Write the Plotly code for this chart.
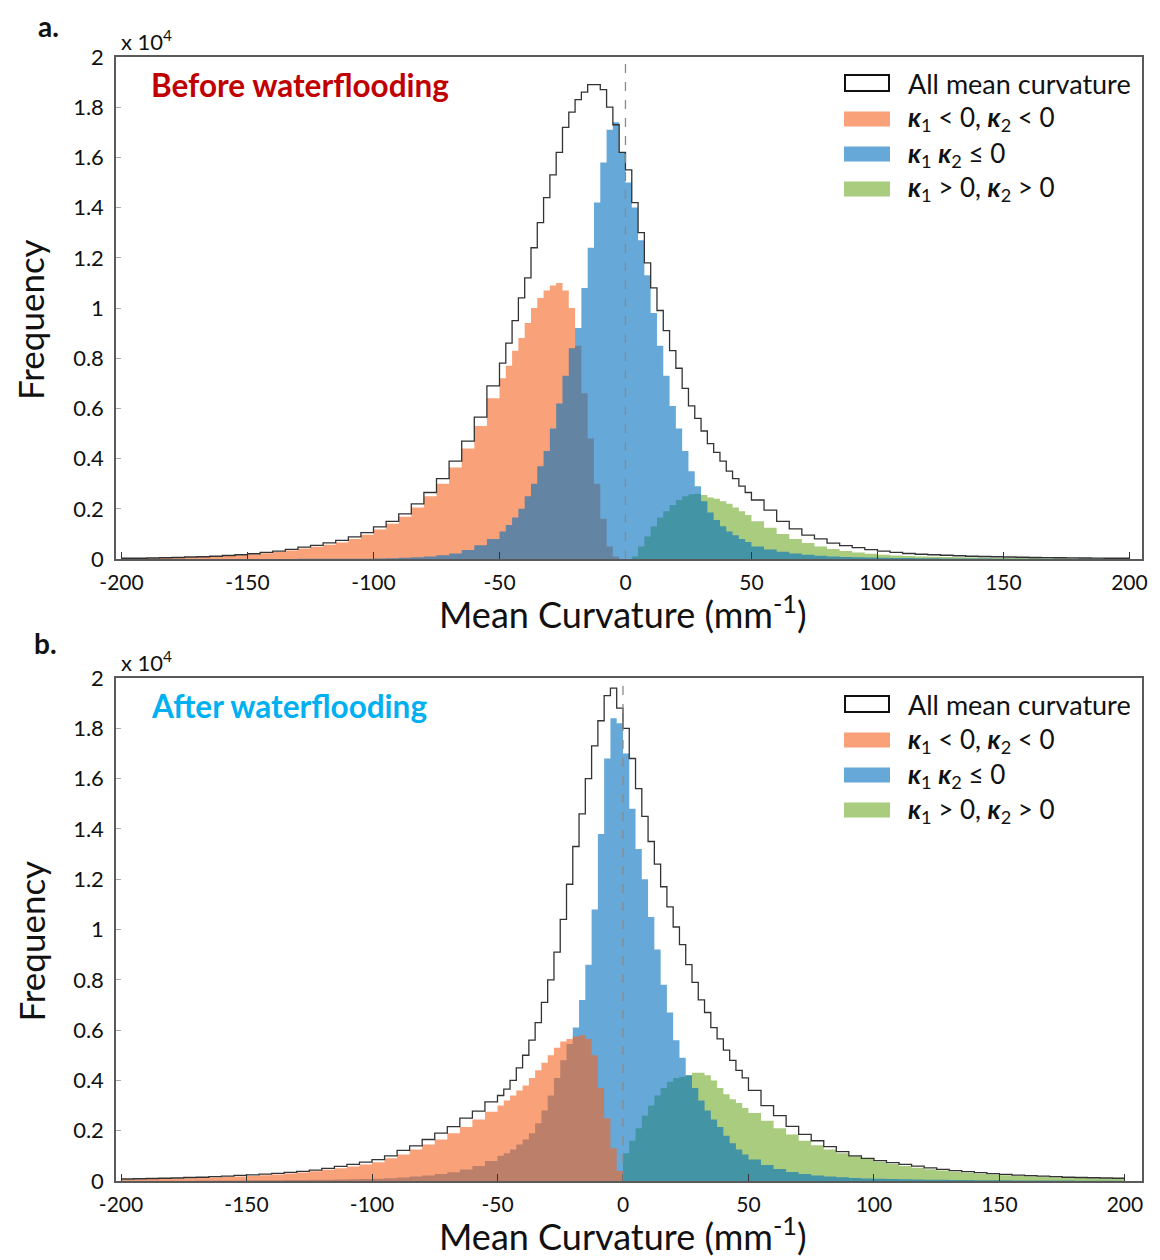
import numpy as np
import plotly.graph_objects as go

# ---------------- data (frequency in units of 10^4) ----------------
# bins: 5 mm^-1 wide in the tails (-200..-50 and 50..200), 2.5 mm^-1 wide in the core (-50..50)
EDGE_LEFT, CORE_LO, CORE_HI, EDGE_RIGHT = -200, -50, 50, 200
TAIL_W, CORE_W = 5, 2.5
X_TICKS = [-200, -150, -100, -50, 0, 50, 100, 150, 200]
Y_TICKS = [0, 0.2, 0.4, 0.6, 0.8, 1.0, 1.2, 1.4, 1.6, 1.8, 2.0]
Y_TICKTEXT = ["0", "0.2", "0.4", "0.6", "0.8", "1", "1.2", "1.4", "1.6", "1.8", "2"]

# panel a: before waterflooding
a_all = [
    0.003, 0.003, 0.004, 0.005, 0.006, 0.008, 0.009, 0.011, 0.014, 0.017,
    0.021, 0.026, 0.031, 0.038, 0.047, 0.054, 0.064, 0.074, 0.088, 0.105,
    0.128, 0.15, 0.18, 0.22, 0.265, 0.32, 0.39, 0.47, 0.565, 0.69,
    0.78, 0.86, 0.95, 1.04, 1.12, 1.24, 1.34, 1.44, 1.53, 1.62,
    1.72, 1.78, 1.83, 1.86, 1.89, 1.89, 1.87, 1.80, 1.73, 1.62,
    1.55, 1.42, 1.30, 1.18, 1.08, 0.99, 0.91, 0.83, 0.76, 0.68,
    0.61, 0.56, 0.51, 0.46, 0.425, 0.39, 0.35, 0.32, 0.29, 0.265,
    0.235, 0.195, 0.15, 0.12, 0.095, 0.08, 0.063, 0.053, 0.045, 0.037,
    0.031, 0.026, 0.022, 0.019, 0.017, 0.015, 0.013, 0.011, 0.010, 0.009,
    0.008, 0.007, 0.006, 0.0055, 0.005, 0.0045, 0.004, 0.0035, 0.003, 0.003]
a_neg = [
    0.002, 0.003, 0.003, 0.004, 0.005, 0.007, 0.008, 0.010, 0.012, 0.015,
    0.019, 0.023, 0.028, 0.034, 0.042, 0.049, 0.057, 0.066, 0.08, 0.097,
    0.118, 0.14, 0.168, 0.205, 0.25, 0.30, 0.365, 0.44, 0.53, 0.64,
    0.72, 0.77, 0.83, 0.88, 0.94, 1.00, 1.04, 1.07, 1.09, 1.10,
    1.07, 1.00, 0.85, 0.66, 0.48, 0.30, 0.16, 0.05, 0.01, 0,
    0, 0, 0, 0, 0, 0, 0, 0, 0, 0,
    0, 0, 0, 0, 0, 0, 0, 0, 0, 0,
    0, 0, 0, 0, 0, 0, 0, 0, 0, 0,
    0, 0, 0, 0, 0, 0, 0, 0, 0, 0,
    0, 0, 0, 0, 0, 0, 0, 0, 0, 0]
a_sad = [
    0, 0, 0, 0, 0, 0, 0, 0, 0, 0,
    0, 0, 0, 0, 0.001, 0.001, 0.001, 0.001, 0.001, 0.001,
    0.002, 0.003, 0.005, 0.007, 0.01, 0.015, 0.022, 0.036, 0.055, 0.08,
    0.11, 0.135, 0.165, 0.20, 0.25, 0.30, 0.37, 0.43, 0.52, 0.62,
    0.73, 0.84, 0.92, 1.08, 1.24, 1.42, 1.58, 1.71, 1.74, 1.62,
    1.50, 1.40, 1.27, 1.13, 0.98, 0.85, 0.73, 0.61, 0.52, 0.43,
    0.35, 0.29, 0.23, 0.185, 0.155, 0.13, 0.11, 0.095, 0.08, 0.068,
    0.05, 0.038, 0.029, 0.022, 0.017, 0.013, 0.01, 0.008, 0.007, 0.006,
    0.005, 0.004, 0.004, 0.003, 0.003, 0.002, 0.002, 0.002, 0.002, 0.001,
    0.001, 0.001, 0.001, 0.001, 0.001, 0.001, 0.001, 0.001, 0.001, 0.001]
a_pos = [
    0, 0, 0, 0, 0, 0, 0, 0, 0, 0,
    0, 0, 0, 0, 0, 0, 0, 0, 0, 0,
    0, 0, 0, 0, 0, 0, 0, 0, 0, 0,
    0, 0, 0, 0, 0, 0, 0, 0, 0, 0,
    0, 0, 0, 0, 0, 0, 0, 0, 0, 0,
    0, 0.01, 0.05, 0.09, 0.13, 0.165, 0.19, 0.215, 0.235, 0.25,
    0.258, 0.26, 0.255, 0.245, 0.24, 0.23, 0.22, 0.205, 0.19, 0.175,
    0.15, 0.125, 0.10, 0.08, 0.064, 0.05, 0.04, 0.032, 0.026, 0.021,
    0.017, 0.014, 0.012, 0.010, 0.009, 0.008, 0.007, 0.006, 0.0055, 0.005,
    0.0045, 0.004, 0.0035, 0.003, 0.003, 0.0025, 0.002, 0.002, 0.002, 0.002]

# panel b: after waterflooding
b_all = [
    0.008, 0.009, 0.010, 0.011, 0.012, 0.014, 0.015, 0.017, 0.019, 0.022,
    0.024, 0.027, 0.030, 0.034, 0.038, 0.043, 0.05, 0.058, 0.066, 0.075,
    0.085, 0.10, 0.122, 0.14, 0.165, 0.19, 0.216, 0.25, 0.278, 0.315,
    0.34, 0.365, 0.40, 0.45, 0.50, 0.56, 0.63, 0.71, 0.80, 0.91,
    1.04, 1.18, 1.33, 1.46, 1.60, 1.73, 1.83, 1.93, 1.96, 1.88,
    1.80, 1.68, 1.56, 1.45, 1.35, 1.26, 1.17, 1.09, 1.01, 0.94,
    0.86, 0.79, 0.72, 0.67, 0.61, 0.565, 0.52, 0.48, 0.44, 0.41,
    0.36, 0.30, 0.26, 0.217, 0.185, 0.16, 0.137, 0.117, 0.10, 0.09,
    0.081, 0.073, 0.066, 0.059, 0.052, 0.046, 0.041, 0.037, 0.033, 0.029,
    0.026, 0.023, 0.021, 0.019, 0.017, 0.015, 0.014, 0.013, 0.012, 0.011]
b_neg = [
    0.006, 0.007, 0.008, 0.009, 0.010, 0.011, 0.012, 0.014, 0.016, 0.018,
    0.020, 0.023, 0.026, 0.030, 0.034, 0.039, 0.045, 0.051, 0.058, 0.066,
    0.075, 0.09, 0.105, 0.125, 0.145, 0.165, 0.19, 0.215, 0.245, 0.275,
    0.30, 0.32, 0.34, 0.36, 0.38, 0.41, 0.44, 0.47, 0.50, 0.53,
    0.555, 0.565, 0.575, 0.58, 0.565, 0.50, 0.37, 0.25, 0.13, 0.04,
    0, 0, 0, 0, 0, 0, 0, 0, 0, 0,
    0, 0, 0, 0, 0, 0, 0, 0, 0, 0,
    0, 0, 0, 0, 0, 0, 0, 0, 0, 0,
    0, 0, 0, 0, 0, 0, 0, 0, 0, 0,
    0, 0, 0, 0, 0, 0, 0, 0, 0, 0]
b_sad = [
    0.001, 0.001, 0.001, 0.001, 0.001, 0.001, 0.002, 0.002, 0.002, 0.002,
    0.003, 0.003, 0.003, 0.004, 0.004, 0.005, 0.005, 0.006, 0.007, 0.008,
    0.009, 0.011, 0.014, 0.018, 0.022, 0.028, 0.035, 0.046, 0.06, 0.08,
    0.10, 0.11, 0.125, 0.145, 0.165, 0.19, 0.23, 0.28, 0.34, 0.41,
    0.48, 0.545, 0.61, 0.72, 0.86, 1.08, 1.38, 1.68, 1.84, 1.82,
    1.70, 1.48, 1.32, 1.20, 1.05, 0.92, 0.78, 0.67, 0.56, 0.49,
    0.42, 0.37, 0.32, 0.28, 0.245, 0.215, 0.18, 0.15, 0.125, 0.105,
    0.085, 0.064, 0.048, 0.036, 0.028, 0.022, 0.018, 0.015, 0.012, 0.010,
    0.009, 0.008, 0.007, 0.006, 0.005, 0.005, 0.004, 0.004, 0.003, 0.003,
    0.003, 0.002, 0.002, 0.002, 0.002, 0.002, 0.001, 0.001, 0.001, 0.001]
b_pos = [
    0, 0, 0, 0, 0, 0, 0, 0, 0, 0,
    0, 0, 0, 0, 0, 0, 0, 0, 0, 0,
    0, 0, 0, 0, 0, 0, 0, 0, 0, 0,
    0, 0, 0, 0, 0, 0, 0, 0, 0, 0,
    0, 0, 0, 0, 0, 0, 0, 0, 0, 0,
    0.11, 0.16, 0.21, 0.26, 0.30, 0.34, 0.37, 0.395, 0.41, 0.415,
    0.42, 0.43, 0.43, 0.42, 0.40, 0.37, 0.345, 0.325, 0.31, 0.29,
    0.27, 0.24, 0.21, 0.185, 0.16, 0.142, 0.125, 0.11, 0.098, 0.087,
    0.077, 0.068, 0.06, 0.053, 0.047, 0.042, 0.037, 0.033, 0.029, 0.026,
    0.023, 0.021, 0.019, 0.017, 0.015, 0.013, 0.012, 0.011, 0.01, 0.009]

LEGEND_LABELS = [
    "All mean curvature",
    "<b><i>κ</i></b><sub>1</sub> &lt; 0, <b><i>κ</i></b><sub>2</sub> &lt; 0",
    "<b><i>κ</i></b><sub>1</sub> <b><i>κ</i></b><sub>2</sub> ≤ 0",
    "<b><i>κ</i></b><sub>1</sub> &gt; 0, <b><i>κ</i></b><sub>2</sub> &gt; 0",
]

# ---------------- styling ----------------
PAGE_OFF = 8                      # default body margin of the html page
W, H = 1160 - PAGE_OFF, 1260 - PAGE_OFF
FONT = "Lato"
COL = {
    "neg": "rgba(245,100,33,0.6)",
    "sad": "rgba(0,112,190,0.6)",
    "pos": "rgba(112,170,42,0.6)",
}


def px(x):
    return (x - PAGE_OFF) / W


def py(y):
    return 1 - (y - PAGE_OFF) / H


edges = np.concatenate([
    np.arange(EDGE_LEFT, CORE_LO, TAIL_W),
    np.arange(CORE_LO, CORE_HI, CORE_W),
    np.arange(CORE_HI, EDGE_RIGHT + 0.1, TAIL_W),
])
for s in (a_all, a_neg, a_sad, a_pos, b_all, b_neg, b_sad, b_pos):
    assert len(s) == len(edges) - 1

panels = [
    dict(xa="x", ya="y", top=57, bottom=559, xr=[-202.2, 205.0],
         layers=[("neg", a_neg), ("pos", a_pos), ("sad", a_sad)], all=a_all,
         title="Before waterflooding", tcolor="#C00000", label="a.", label_xy=(48, 26)),
    dict(xa="x2", ya="y2", top=678, bottom=1181, xr=[-202.0, 206.8],
         layers=[("pos", b_pos), ("sad", b_sad), ("neg", b_neg)], all=b_all,
         title="After waterflooding", tcolor="#00B0F0", label="b.", label_xy=(45, 643)),
]

fig = go.Figure()
annotations = []
shapes = []


def ann(text, x, y, size, xanchor="center", color="#111", **kw):
    annotations.append(dict(text=text, x=px(x), y=py(y), xref="paper", yref="paper",
                            xanchor=xanchor, yanchor="middle", showarrow=False,
                            font=dict(family=FONT, size=size, color=color), **kw))


for i, p in enumerate(panels):
    for key, vals in p["layers"]:
        fig.add_trace(go.Scatter(
            x=edges, y=list(vals) + [vals[-1]], mode="lines",
            line=dict(width=0, shape="hv"), fill="tozeroy", fillcolor=COL[key],
            xaxis=p["xa"], yaxis=p["ya"], hoverinfo="skip", showlegend=False))
    fig.add_trace(go.Scatter(
        x=edges, y=list(p["all"]) + [p["all"][-1]], mode="lines",
        line=dict(width=1.3, color="#333333", shape="hv"),
        xaxis=p["xa"], yaxis=p["ya"], hoverinfo="skip", showlegend=False))

    axis_suffix = "" if i == 0 else "2"
    common = dict(showline=True, mirror=True, linecolor="#5a5a5a", linewidth=1.5,
                  showgrid=False, zeroline=False, ticks="inside", automargin=False)
    fig.update_layout(**{
        "xaxis" + axis_suffix: dict(
            domain=[px(116), px(1142)], range=p["xr"], anchor="y" + axis_suffix,
            tickvals=X_TICKS, ticktext=[str(v) for v in X_TICKS], ticklen=7,
            tickcolor="#333", ticklabelstandoff=4,
            tickfont=dict(family=FONT, size=21, color="#111"), **common),
        "yaxis" + axis_suffix: dict(
            domain=[py(p["bottom"]), py(p["top"])], range=[0, 2], anchor="x" + axis_suffix,
            tickvals=Y_TICKS, ticktext=Y_TICKTEXT, ticklen=5, tickcolor="#aaa",
            ticklabelstandoff=6,
            tickfont=dict(family=FONT, size=22, color="#111"), **common),
    })

    # dashed zero line
    shapes.append(dict(type="line", xref=p["xa"], yref=p["ya"] + " domain",
                       x0=0, x1=0, y0=0, y1=1, layer="above",
                       line=dict(color="#8a8a8a", width=1.3, dash="dash")))

    top, bottom = p["top"], p["bottom"]
    ann("<b>" + p["label"] + "</b>", p["label_xy"][0], p["label_xy"][1], 28)
    ann("x 10<sup>4</sup>", 119, top - 17, 22, xanchor="left")
    ann("<b>" + p["title"] + "</b>", 149, top + 28, 31.5, xanchor="left", color=p["tcolor"])
    ann("Mean Curvature (mm<sup>-1</sup>)", 623, bottom + 53, 36)
    ann("Frequency", 30, (top + bottom) / 2 + 12, 35, textangle=-90)

    # legend
    row_y = [top + 26, top + 62, top + 97, top + 132]
    fills = [None, COL["neg"], COL["sad"], COL["pos"]]
    for j, (ry, fc) in enumerate(zip(row_y, fills)):
        if fc is None:
            shapes.append(dict(type="rect", xref="paper", yref="paper",
                               x0=px(845), x1=px(889), y0=py(ry - 8), y1=py(ry + 8),
                               line=dict(color="#111", width=2), fillcolor="white"))
        else:
            shapes.append(dict(type="rect", xref="paper", yref="paper",
                               x0=px(844), x1=px(890), y0=py(ry - 7.5), y1=py(ry + 7.5),
                               line=dict(width=0), fillcolor=fc))
        ann(LEGEND_LABELS[j], 906, ry, 27 if j == 0 else 26, xanchor="left")

fig.update_layout(
    width=W, height=H, margin=dict(l=0, r=0, t=0, b=0, autoexpand=False),
    paper_bgcolor="white", plot_bgcolor="white",
    annotations=annotations, shapes=shapes, showlegend=False,
    font=dict(family=FONT),
)

fig.write_html("out.html")
